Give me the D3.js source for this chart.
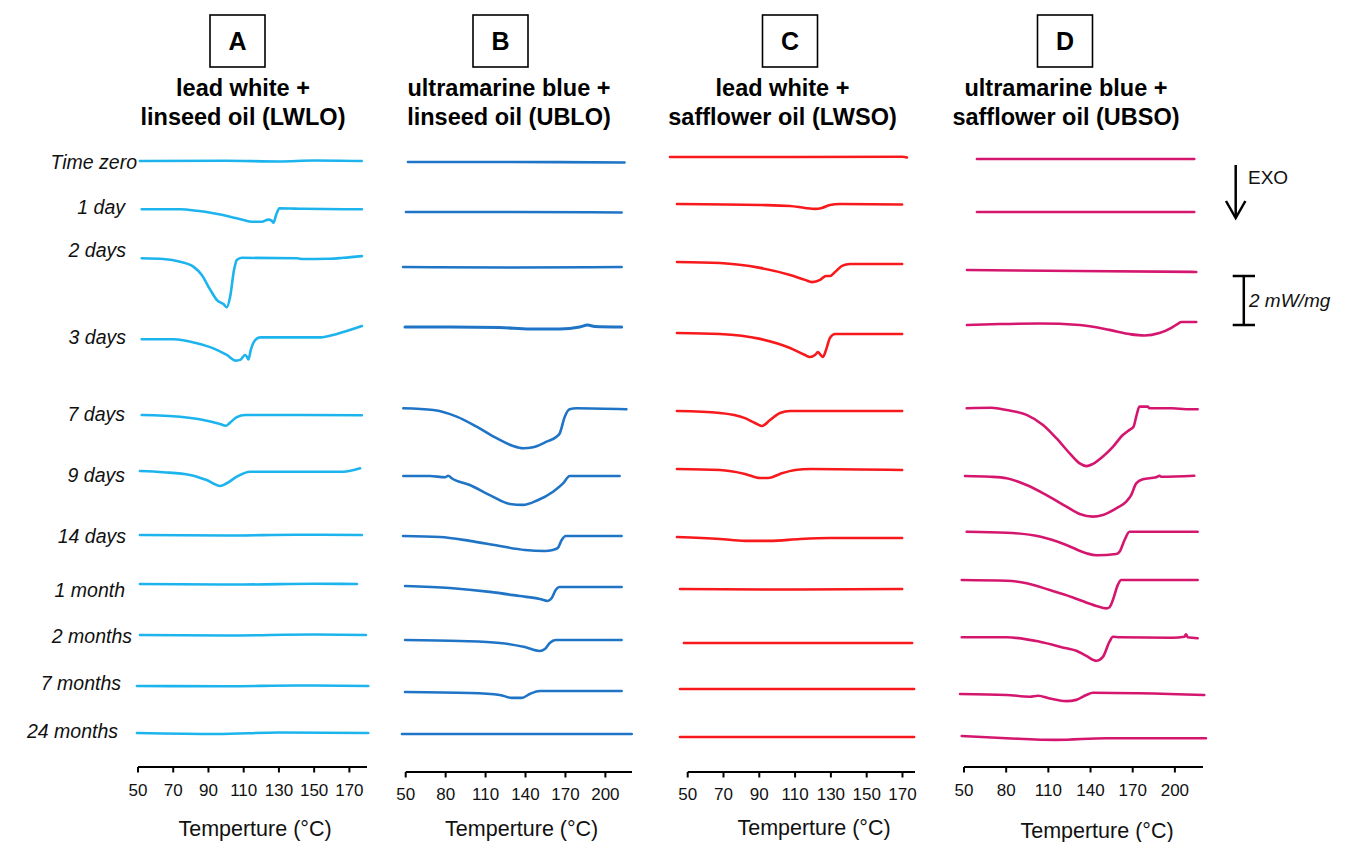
<!DOCTYPE html>
<html><head><meta charset="utf-8">
<script src="https://cdn.jsdelivr.net/npm/d3@7"></script>
<style>body{margin:0;background:#fff}svg{display:block}text{font-family:"Liberation Sans",Arial,sans-serif}</style>
</head><body><svg id="c" width="1348" height="842"></svg>
<script>
// ---------- DATA ----------
const rowLabels = ["Time zero","1 day","2 days","3 days","7 days","9 days","14 days","1 month","2 months","7 months","24 months"];
const panelLetters = ["A","B","C","D"];
const panelTitle1 = ["lead white +","ultramarine blue +","lead white +","ultramarine blue +"];
const panelTitle2 = ["linseed oil (LWLO)","linseed oil (UBLO)","safflower oil (LWSO)","safflower oil (UBSO)"];
const ticksA = [50,70,90,110,130,150,170];
const ticksB = [50,80,110,140,170,200];
const ticksC = [50,70,90,110,130,150,170];
const ticksD = [50,80,110,140,170,200];
const axisTitle = "Temperture (°C)";
// each curve: [temperature °C, heat flow relative to curve start, mW/mg]
const LWLO = [
  [[51.1,0],[100,0.01],[130,-0.02],[150,0.02],[177,0]],
  [[52.1,0],[73.9,0],[83.4,-0.06],[92.8,-0.16],[102.3,-0.30],[109.9,-0.44],[114.6,-0.51],[120.3,-0.51],[124,-0.42],[126,-0.47],[126.9,-0.55],[128.4,-0.23],[130.3,0.04],[143.9,0.02],[177.1,0]],
  [[52.1,0],[64.4,-0.03],[73.9,-0.14],[81.4,-0.34],[86.2,-0.68],[90.9,-1.27],[95.1,-1.73],[98.5,-1.87],[100.4,-2.0],[102.3,-1.57],[104.5,-0.48],[106.1,-0.07],[108.9,0.02],[140.2,0],[143.9,-0.03],[159.1,-0.02],[166.6,0.02],[177.1,0.09]],
  [[52.1,0],[70.1,0],[83.4,-0.16],[92.8,-0.37],[100.4,-0.64],[105.7,-0.87],[108,-0.84],[110.8,-0.64],[111.8,-0.71],[112.7,-0.82],[114,-0.44],[116.5,-0.03],[119.3,0.08],[153.4,0.08],[162.9,0.22],[177.1,0.54]],
  [[52.1,0],[73.9,-0.07],[87.1,-0.2],[96.6,-0.37],[99.8,-0.44],[102.3,-0.31],[106.1,-0.09],[110.8,0],[140.2,0],[177.1,-0.01]],
  [[51.1,0],[64.4,-0.05],[79.5,-0.16],[89,-0.37],[96.6,-0.61],[100.4,-0.5],[106.1,-0.23],[113.6,-0.03],[166.6,-0.03],[176.1,0.11]],
  [[51.1,0],[100,-0.02],[140,0.01],[177.1,0]],
  [[51.1,0],[110,-0.02],[150,0.01],[174.3,0]],
  [[51.1,0],[100,-0.02],[150,0.02],[179.4,0]],
  [[49.4,0],[100,-0.01],[140,0.02],[180.7,0]],
  [[49.4,0],[95,-0.04],[130,0.02],[180.7,0]]
];
const UBLO = [
  [[51.7,0],[130,0],[214.4,-0.02]],
  [[50.2,0],[130,0],[212.2,-0.02]],
  [[48,0],[130,-0.02],[212.2,0]],
  [[49.5,0],[83.2,0],[120.7,-0.02],[143.2,-0.08],[165.7,-0.08],[180.7,0],[186.7,0.08],[192,0.02],[212.2,0]],
  [[48.2,0],[70.7,-0.07],[88.3,-0.34],[103.3,-0.75],[118.3,-1.22],[130.7,-1.54],[138.2,-1.63],[145.7,-1.59],[155.8,-1.36],[163.3,-1.16],[165.7,-1.02],[169.5,-0.34],[173.2,-0.04],[178.3,0],[215.8,-0.04]],
  [[48.2,0],[68.2,0],[79.5,-0.05],[82,0.01],[84.5,-0.09],[98.2,-0.37],[113.2,-0.78],[128.2,-1.14],[138.2,-1.18],[148.3,-1.01],[160.7,-0.64],[168.2,-0.3],[173.2,0],[210.7,0]],
  [[48,0],[75.7,-0.04],[98.2,-0.2],[120.7,-0.41],[139.5,-0.57],[154.5,-0.61],[160.5,-0.57],[164.2,-0.49],[167.2,-0.16],[170.2,0],[212.2,0]],
  [[49.5,0],[83.2,-0.08],[113.2,-0.24],[135.7,-0.41],[150.7,-0.53],[156.7,-0.61],[159.7,-0.49],[162.7,-0.16],[165.7,-0.04],[212.2,-0.04]],
  [[49.5,0],[90.7,-0.04],[120.7,-0.12],[139.5,-0.29],[150.7,-0.45],[154.5,-0.37],[158.2,-0.12],[162.7,0],[212.2,0]],
  [[49.5,0],[98.2,-0.04],[120.7,-0.12],[129.7,-0.24],[137.2,-0.24],[143.2,-0.08],[150.7,0.04],[212.2,0.04]],
  [[47.2,0],[130,0],[219.8,0]]
];
const LWSO = [
  [[40.1,0],[110,0],[170,0.01],[172.5,-0.02]],
  [[44,0],[90.5,-0.04],[107.2,-0.08],[115.5,-0.16],[121.1,-0.2],[125,-0.16],[129.5,-0.04],[135.1,0],[169.8,-0.02]],
  [[44,0],[68,-0.04],[90.5,-0.24],[107.2,-0.53],[115.5,-0.73],[119.5,-0.82],[124,-0.73],[127.3,-0.57],[129.5,-0.57],[132.3,-0.41],[136.2,-0.16],[140.7,-0.08],[169.8,-0.08]],
  [[44,0],[68,-0.04],[90.5,-0.24],[107.2,-0.61],[115.5,-0.9],[118.3,-0.98],[121.1,-0.9],[122.8,-0.78],[123.9,-0.86],[125.6,-0.98],[127.3,-0.69],[129.5,-0.2],[132.3,-0.04],[169.8,-0.04]],
  [[44,0],[68,-0.08],[82,-0.29],[87.6,-0.49],[91.5,-0.61],[96,-0.37],[101.6,-0.08],[107.2,0],[169.8,0]],
  [[44,0],[68,-0.04],[82,-0.2],[90.5,-0.37],[95,-0.37],[101.6,-0.2],[110,-0.04],[118.4,0],[169.8,-0.04]],
  [[44,0],[68,-0.08],[82,-0.16],[96,-0.16],[112.8,-0.08],[129.5,-0.04],[169.8,-0.04]],
  [[45.7,0],[110,-0.02],[169.8,0]],
  [[47.9,0],[110,0],[175.4,0]],
  [[45.7,0],[110,0],[176.5,0]],
  [[45.7,0],[110,0],[176.5,0]]
];
const UBSO = [
  [[59.2,0],[140,0],[213.8,0]],
  [[59.2,0],[140,0],[213.8,0]],
  [[52.1,0],[130,-0.04],[215.2,-0.08]],
  [[52.1,0],[75.5,0.04],[103.9,0.06],[132.3,0],[153.5,-0.2],[167.7,-0.37],[178.4,-0.43],[189,-0.33],[197.5,-0.12],[201.8,0.04],[204.6,0.12],[215.2,0.12]],
  [[51.9,0],[69.6,0.02],[80.3,-0.07],[94.5,-0.27],[106.2,-0.68],[115.7,-1.22],[125.2,-1.84],[132.3,-2.25],[137,-2.36],[141.7,-2.27],[148.8,-1.97],[155.9,-1.57],[163,-1.09],[167.7,-0.88],[170.6,-0.75],[172.5,-0.34],[174.8,0.07],[180.7,0.07],[181.9,0],[198.4,0],[207.9,-0.04],[216.2,-0.04]],
  [[50.7,0],[68.4,-0.03],[80.3,-0.09],[94.5,-0.37],[108.7,-0.78],[122.9,-1.25],[132.3,-1.55],[141.7,-1.66],[148.8,-1.59],[158.3,-1.32],[165.4,-1.05],[168.9,-0.78],[172.5,-0.3],[177.2,-0.13],[186.7,-0.05],[189,0.01],[190.2,-0.03],[213.8,0.01]],
  [[51.9,0],[80.3,-0.04],[103.9,-0.2],[122.8,-0.54],[137,-0.88],[144.1,-0.96],[158.3,-0.91],[160.6,-0.82],[164.2,-0.34],[167.7,0],[216.2,0]],
  [[48.4,0],[80.3,-0.03],[94.5,-0.13],[111,-0.41],[127.5,-0.71],[144.1,-1.06],[151.2,-1.16],[153.5,-1.11],[155.9,-0.82],[159.4,-0.2],[161.8,0],[216.2,0]],
  [[48.4,0],[80.3,0],[103.9,-0.18],[122.8,-0.45],[129.9,-0.55],[137,-0.76],[144.1,-0.96],[148.8,-0.8],[153.5,-0.18],[155.9,0.02],[160.6,0],[198.5,-0.02],[206.7,0.02],[207.9,0.12],[209.1,0],[216.2,-0.04]],
  [[47.2,0],[80.3,-0.04],[96.8,-0.11],[102.7,-0.07],[111,-0.18],[122.8,-0.29],[129.9,-0.24],[137,-0.04],[141.7,0.05],[220.9,-0.04]],
  [[48.4,0],[80.3,-0.09],[115.7,-0.16],[151.2,-0.09],[222.1,-0.09]]
];

// ---------- LAYOUT ----------
const svg = d3.select("#c");
const pxPerUnit = 24.5; // px per mW/mg
const panels = [
  {data:LWLO, ticks:ticksA, dom:[50,180], rng:[138,367], axisY:767, labY:795.5, titleX:255, titleY:836, color:"#1db4ee", head:243, box:237.5,
   base:[161,209.3,258.3,339.3,415,471,535,584,635,686,733]},
  {data:UBLO, ticks:ticksB, dom:[50,220], rng:[405.7,632], axisY:772, labY:799.5, titleX:521.7, titleY:835.5, color:"#1f74c6", head:509, box:500.5,
   base:[162,212,267,327,408.3,476,536,586,640,692,734]},
  {data:LWSO, ticks:ticksC, dom:[50,177], rng:[687.7,915], axisY:772, labY:799.5, titleX:814, titleY:835, color:"#f8191c", head:782.5, box:790,
   base:[157,204,262,333,411,469,537,589,643,689,737]},
  {data:UBSO, ticks:ticksD, dom:[50,220], rng:[964,1203], axisY:767, labY:795.5, titleX:1097, titleY:837.5, color:"#d5166f", head:1066, box:1065,
   base:[159,212,270,325,408.3,476,531.7,580,637.3,694,736]}
];

panels.forEach((p,pi) => {
  const x = d3.scaleLinear().domain(p.dom).range(p.rng);
  const g = svg.append("g");
  // header box
  g.append("rect").attr("x",p.box-27.5).attr("y",15).attr("width",55).attr("height",52)
    .attr("fill","none").attr("stroke","#000").attr("stroke-width",1.6);
  g.append("text").attr("x",p.box).attr("y",50).attr("text-anchor","middle")
    .attr("font-size",25).attr("font-weight","bold").text(panelLetters[pi]);
  g.append("text").attr("x",p.head).attr("y",96).attr("text-anchor","middle")
    .attr("font-size",23.5).attr("font-weight","bold").text(panelTitle1[pi]);
  g.append("text").attr("x",p.head).attr("y",125).attr("text-anchor","middle")
    .attr("font-size",23.5).attr("font-weight","bold").text(panelTitle2[pi]);
  // curves
  p.data.forEach((curve,ci) => {
    const y = d3.scaleLinear().domain([0,1]).range([p.base[ci], p.base[ci]-pxPerUnit]);
    const line = d3.line().x(d=>x(d[0])).y(d=>y(d[1])).curve(d3.curveMonotoneX);
    g.append("path").datum(curve).attr("d",line).attr("fill","none")
      .attr("stroke",p.color).attr("stroke-width",(pi===1&&ci===3)?3.1:2.6)
      .attr("stroke-linejoin","round").attr("stroke-linecap","round");
  });
  // axis
  const ax = g.append("g").attr("transform",`translate(0,${p.axisY})`);
  ax.append("line").attr("x1",p.rng[0]).attr("x2",p.rng[1]).attr("stroke","#000").attr("stroke-width",2);
  ax.selectAll("line.t").data(p.ticks).enter().append("line").attr("class","t")
    .attr("x1",d=>x(d)).attr("x2",d=>x(d)).attr("y1",0).attr("y2",5.5).attr("stroke","#000").attr("stroke-width",2);
  g.selectAll("text.tl").data(p.ticks).enter().append("text").attr("class","tl")
    .attr("x",d=>x(d)).attr("y",p.labY).attr("text-anchor","middle").attr("font-size",17).attr("fill","#111").text(d=>d);
  g.append("text").attr("x",p.titleX).attr("y",p.titleY).attr("text-anchor","middle")
    .attr("font-size",21.5).attr("fill","#111").text(axisTitle);
});

// row labels
const labelY = [162,207,250,337,414,475,536,590,636,683,731];
const labelRight = [137,125,126,126,125,125,126,125,132,121,118];
svg.selectAll("text.rl").data(rowLabels).enter().append("text").attr("class","rl")
  .attr("x",(d,i)=>labelRight[i]).attr("y",(d,i)=>labelY[i]+7).attr("text-anchor","end")
  .attr("font-size",19.5).attr("font-style","italic").attr("fill","#111").text(d=>d);

// EXO arrow
const ex = svg.append("g");
ex.append("line").attr("x1",1235.7).attr("x2",1235.7).attr("y1",165).attr("y2",217).attr("stroke","#000").attr("stroke-width",2.5);
ex.append("path").attr("d","M1226,201 L1235.7,218 L1245.4,201").attr("fill","none").attr("stroke","#000").attr("stroke-width",2.5);
ex.append("text").attr("x",1248).attr("y",184).attr("font-size",19).attr("fill","#111").text("EXO");
// scale bar (2 mW/mg)
const sb = d3.scaleLinear().domain([0,2]).range([325,325-2*pxPerUnit]);
ex.append("line").attr("x1",1243.8).attr("x2",1243.8).attr("y1",sb(0)).attr("y2",sb(2)).attr("stroke","#000").attr("stroke-width",2.5);
ex.append("line").attr("x1",1232.7).attr("x2",1255).attr("y1",sb(0)).attr("y2",sb(0)).attr("stroke","#000").attr("stroke-width",2.5);
ex.append("line").attr("x1",1232.7).attr("x2",1255).attr("y1",sb(2)).attr("y2",sb(2)).attr("stroke","#000").attr("stroke-width",2.5);
ex.append("text").attr("x",1249).attr("y",307).attr("font-size",19).attr("font-style","italic").attr("fill","#111").text("2 mW/mg");
</script></body></html>
